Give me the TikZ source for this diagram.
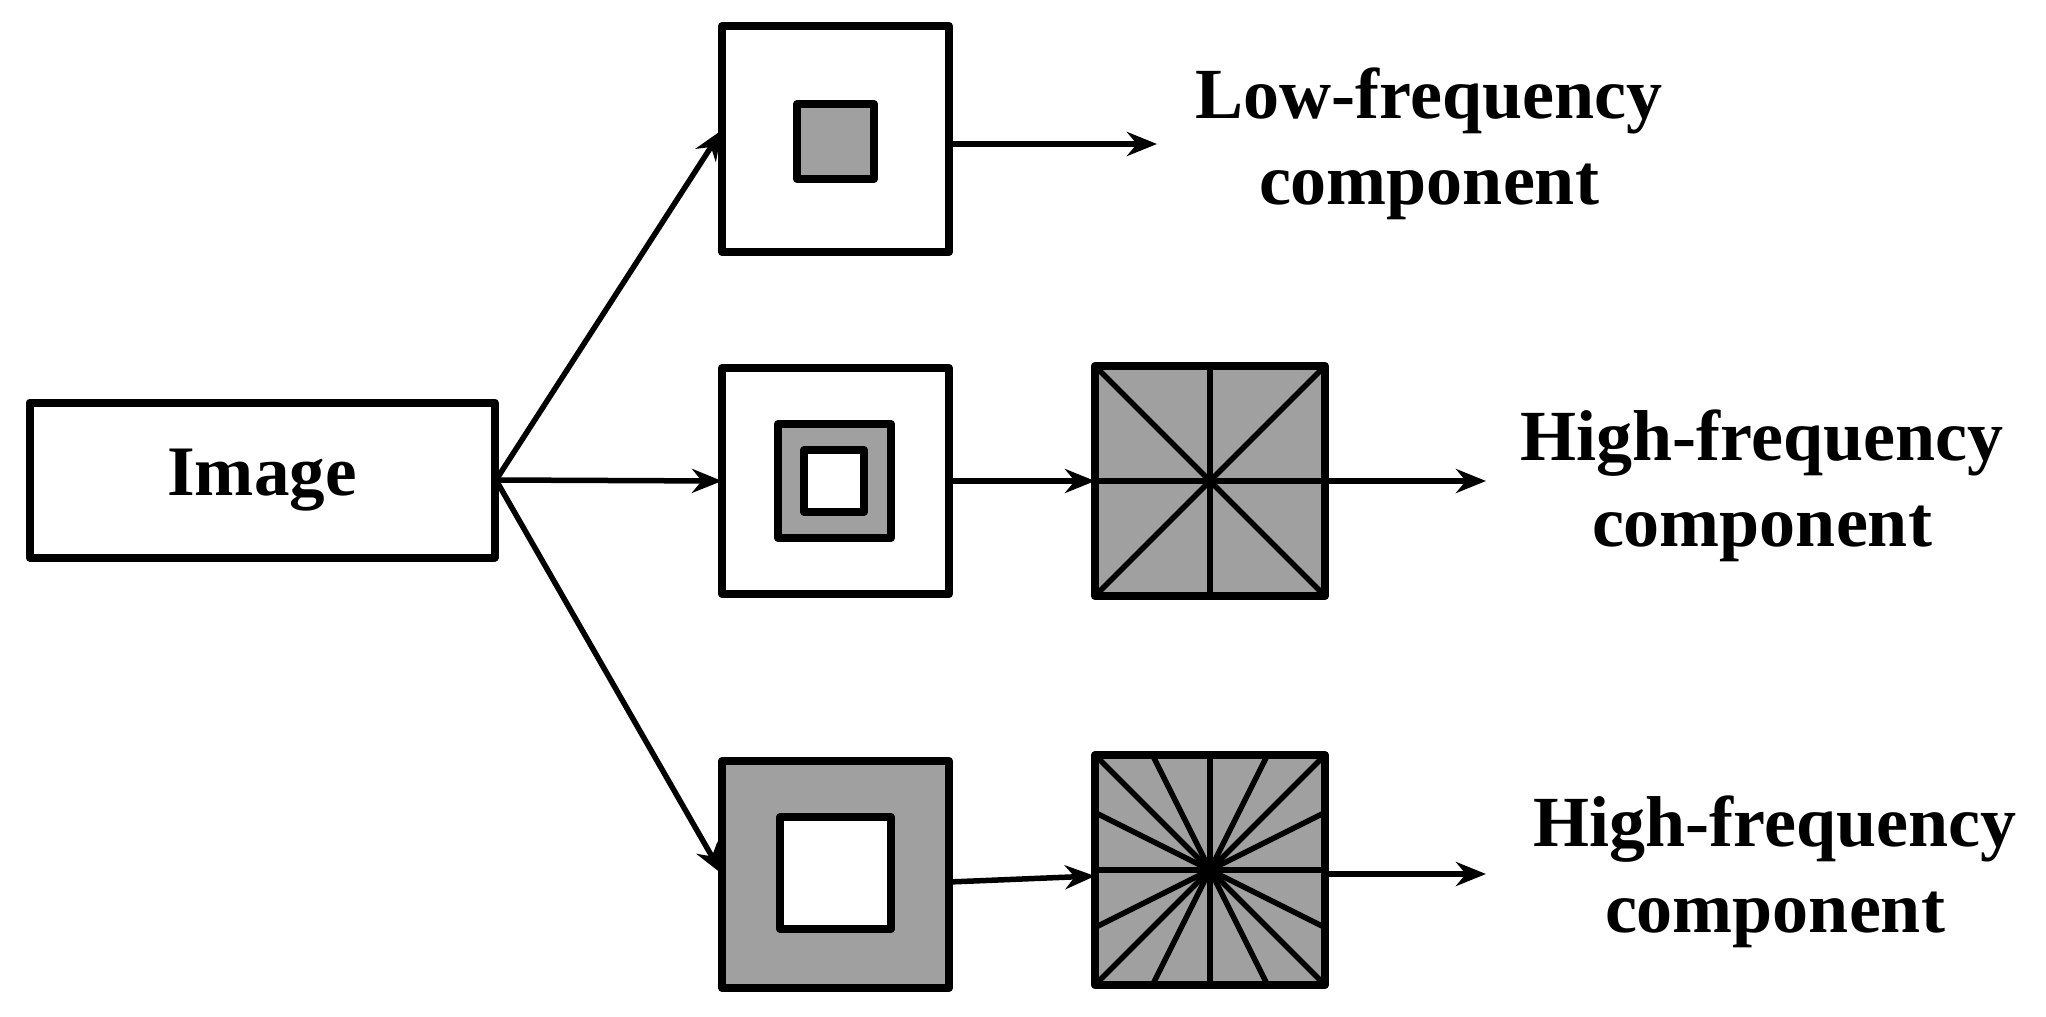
\documentclass[tikz,border=0pt]{standalone}
\usepackage{fontspec}
\setmainfont{Liberation Serif}
\usetikzlibrary{arrows.meta}
\definecolor{fill}{HTML}{A0A0A0}
\begin{document}
\begin{tikzpicture}[x=1pt,y=-1pt,line width=8pt,
  box/.style={draw,line join=round},
  arr/.style={line width=5.5pt,-{Stealth[length=30pt,width=24pt]}},
  ray/.style={line width=5.5pt},
  lbl/.style={font=\fontsize{72}{86}\selectfont\bfseries,align=center}]
\useasboundingbox (0,0) rectangle (2046,1017);
% image
\node[box,minimum width=465pt,minimum height=155pt,inner sep=0pt,font=\fontsize{71}{76}\selectfont\bfseries] (img) at (262,480) {Image};
\coordinate (src) at (496,480);
% top box
\draw[box] (722,26) rectangle (949,252);
\draw[box,fill=fill] (797,104) rectangle (874,179);
\coordinate (t) at (722,130); \coordinate (tout) at (949,144);
% middle box
\draw[box] (722,368) rectangle (949,594);
\draw[box,fill=fill] (778,424) rectangle (891,538);
\draw[box,fill=white] (804,450) rectangle (864,512);
\coordinate (m) at (722,481); \coordinate (mout) at (949,481);
% bottom box
\draw[box,fill=fill] (722,761) rectangle (949,988);
\draw[box,fill=white] (780,817) rectangle (891,929);
\coordinate (b) at (722,874); \coordinate (bout) at (949,882);
% directional boxes
\draw[box,fill=fill] (1095,366) rectangle (1325,596);
\foreach \p in {(1095,366),(1210,366),(1325,366),(1325,481),(1325,596),(1210,596),(1095,596),(1095,481)}
  \draw[ray] (1210,481) -- \p;
\coordinate (d1in) at (1095,481); \coordinate (d1out) at (1325,481);
\draw[box,fill=fill] (1095,755) rectangle (1325,985);
\foreach \p in {(1095,755),(1152.5,755),(1210,755),(1267.5,755),(1325,755),(1325,812.5),(1325,870),(1325,927.5),(1325,985),(1267.5,985),(1210,985),(1152.5,985),(1095,985),(1095,927.5),(1095,870),(1095,812.5)}
  \draw[ray] (1210,870) -- \p;
\coordinate (d2in) at (1095,876); \coordinate (d2out) at (1325,874);
% connectors
\draw[arr] (src) -- (t);
\draw[arr] (src) -- (m);
\draw[arr] (src) -- (b);
\draw[arr] (tout) -- (1157,144) coordinate (tend);
\draw[arr] (mout) -- (d1in);
\draw[arr] (bout) -- (d2in);
\draw[arr] (d1out) -- (1486,481) coordinate (mend);
\draw[arr] (d2out) -- (1486,874) coordinate (bend);
% labels
\node[lbl] (l1) at (1429,144) {Low-frequency\\component};
\node[lbl] (l2) at (1762,486) {High-frequency\\component};
\node[lbl] (l3) at (1775,872) {High-frequency\\component};
\end{tikzpicture}
\end{document}
